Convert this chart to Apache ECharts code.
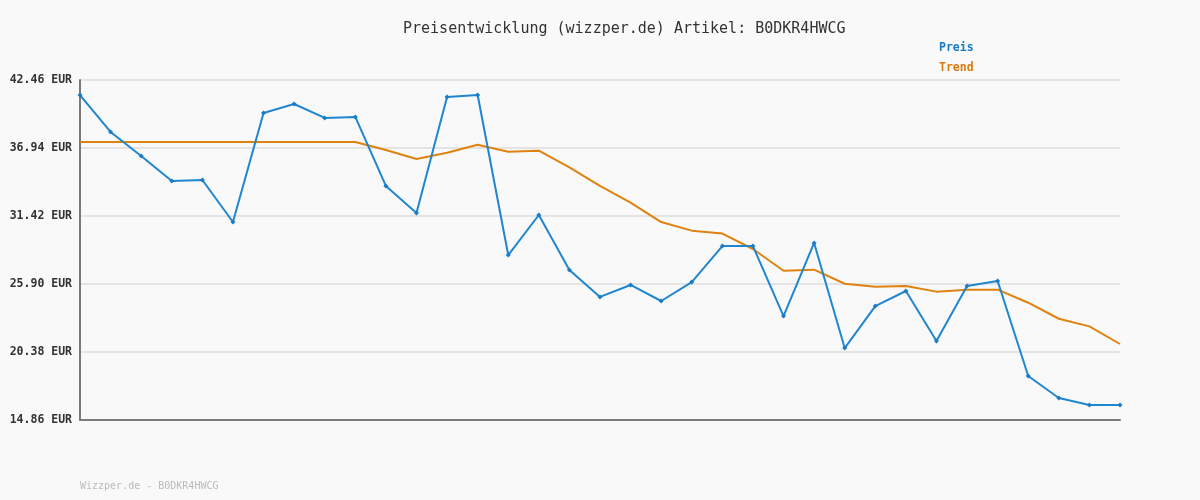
<!DOCTYPE html>
<html>
<head>
<meta charset="utf-8">
<script src="https://cdn.jsdelivr.net/npm/echarts@6/dist/echarts.min.js"></script>
<style>
html,body{margin:0;padding:0;background:#f9f9f9;}
#c{width:1200px;height:500px;}
</style>
</head>
<body>
<div id="c"></div>
<script>
// Data
const categories = Array.from({length: 35}, (_, i) => String(i + 1));
const preis = [41.24, 38.24, 36.29, 34.26, 34.34, 30.93, 39.78, 40.51, 39.38, 39.46,
               33.86, 31.66, 41.08, 41.24, 28.25, 31.50, 27.04, 24.85, 25.82, 24.52,
               26.06, 28.98, 28.98, 23.30, 29.23, 20.70, 24.11, 25.33, 21.27, 25.74,
               26.14, 18.43, 16.65, 16.08, 16.08];
const trend = [37.43, 37.43, 37.43, 37.43, 37.43, 37.43, 37.43, 37.43, 37.43, 37.43,
               36.78, 36.05, 36.56, 37.21, 36.64, 36.72, 35.37, 33.86, 32.50, 30.93,
               30.23, 29.99, 28.74, 26.98, 27.06, 25.92, 25.68, 25.74, 25.28, 25.44,
               25.44, 24.38, 23.08, 22.46, 21.03];
const yTicks = [14.86, 20.38, 25.90, 31.42, 36.94, 42.46];

const BASE = yTicks[0];
const STEP = yTicks[1] - yTicks[0];
const TOP = yTicks[yTicks.length - 1] - BASE;

const mono = 'DejaVu Sans Mono';
const chart = echarts.init(document.getElementById('c'));
chart.setOption({
  backgroundColor: '#f9f9f9',
  animation: false,
  title: {
    text: 'Preisentwicklung (wizzper.de) Artikel: B0DKR4HWCG',
    left: 398, top: 17,
    textStyle: {fontFamily: mono, fontSize: 15, fontWeight: 'normal', color: '#333'}
  },
  legend: {
    orient: 'vertical', left: 934, top: 37, icon: 'none', itemWidth: 0, itemHeight: 10, itemGap: 8,
    textStyle: {fontFamily: mono, fontSize: 11.5, fontWeight: 'bold', padding: [0,0,0,-5]},
    data: [
      {name: 'Preis', textStyle: {color: '#1a7cc4'}},
      {name: 'Trend', textStyle: {color: '#dd7a0e'}}
    ],
    selectedMode: false
  },
  graphic: [{
    type: 'text', left: 80, top: 481,
    style: {text: 'Wizzper.de - B0DKR4HWCG', fontFamily: mono, fontSize: 10, fill: '#bbbbbb'}
  }],
  grid: {left: 80, right: 80, top: 80, bottom: 80, containLabel: false},
  xAxis: {
    type: 'category', data: categories, boundaryGap: false,
    axisLine: {lineStyle: {color: '#7a7a7a', width: 2}},
    axisTick: {show: false}, axisLabel: {show: false}, splitLine: {show: false}
  },
  yAxis: {
    type: 'value', min: 0, max: TOP, interval: STEP,
    axisLine: {show: true, lineStyle: {color: '#7a7a7a', width: 2}},
    axisTick: {show: false},
    axisLabel: {
      formatter: v => (v + BASE).toFixed(2) + ' EUR',
      fontFamily: mono, fontSize: 11.5, fontWeight: 'bold', color: '#333', margin: 8
    },
    splitLine: {lineStyle: {color: '#e4e4e4', width: 2}}
  },
  series: [
    {
      name: 'Preis', type: 'line', data: preis.map(v => v - BASE),
      symbol: 'diamond', symbolSize: 5, showSymbol: true,
      lineStyle: {color: '#1f86cf', width: 2}, itemStyle: {color: '#1a7cc4'}, z: 3
    },
    {
      name: 'Trend', type: 'line', data: trend.map(v => v - BASE),
      symbol: 'none',
      lineStyle: {color: '#e0820f', width: 2}, itemStyle: {color: '#dd7a0e'}, z: 2
    }
  ]
});
</script>
</body>
</html>
